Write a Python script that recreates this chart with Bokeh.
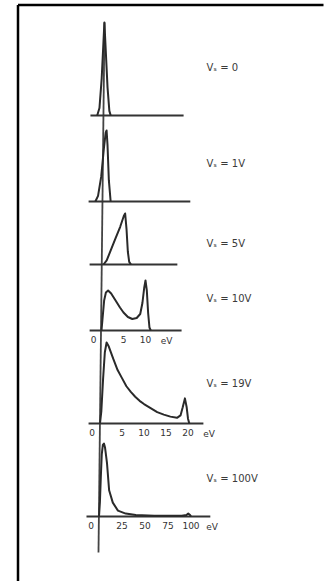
from bokeh.plotting import figure
from bokeh.models import Range1d
from bokeh.core.properties import value
from bokeh.embed import file_html
from bokeh.resources import INLINE

# ---------------- data (energy in eV, relative intensity) ----------------
labels = ["Vₛ = 0", "Vₛ = 1V", "Vₛ = 5V", "Vₛ = 10V", "Vₛ = 19V", "Vₛ = 100V"]

e_0 = [-1.4, -0.9, -0.4, 0.0, 0.2, 0.45, 0.9, 1.3, 1.6]
i_0 = [0.0, 0.08, 0.4, 0.8, 1.0, 0.75, 0.3, 0.05, 0.0]

e_1 = [-1.7, -1.1, -0.4, 0.2, 0.6, 0.8, 1.0, 1.3, 1.7]
i_1 = [0.0, 0.08, 0.35, 0.75, 0.97, 1.0, 0.8, 0.3, 0.0]

e_5 = [0.3, 1.0, 2.0, 3.0, 4.0, 4.8, 5.1, 5.4, 5.7, 6.0, 6.4]
i_5 = [0.0, 0.08, 0.3, 0.52, 0.74, 0.95, 1.0, 0.7, 0.25, 0.05, 0.0]

e_10 = [0.0, 0.2, 0.6, 1.0, 1.5, 2.2, 3.2, 4.2, 5.0, 6.0, 7.0, 8.0, 8.8, 9.3, 9.7, 10.0, 10.3, 10.6, 10.9, 11.2]
i_10 = [0.0, 0.2, 0.6, 0.76, 0.8, 0.74, 0.6, 0.46, 0.36, 0.27, 0.23, 0.25, 0.33, 0.55, 0.85, 1.0, 0.8, 0.35, 0.06, 0.0]

e_19 = [0.0, 0.3, 0.7, 1.1, 1.5, 2.0, 3.0, 4.0, 5.0, 6.0, 7.0, 8.0, 9.0, 10.0, 11.5, 13.0, 14.5, 16.0, 17.5, 18.3, 18.8, 19.3, 19.7, 20.0, 20.3]
i_19 = [0.0, 0.15, 0.55, 0.88, 1.0, 0.95, 0.8, 0.66, 0.56, 0.46, 0.39, 0.33, 0.28, 0.24, 0.19, 0.14, 0.11, 0.085, 0.07, 0.1, 0.2, 0.31, 0.2, 0.06, 0.0]

e_100 = [0.0, 1.0, 2.0, 3.0, 4.2, 5.4, 6.5, 7.5, 8.7, 11.0, 15.0, 20.6, 29.0, 40.0, 60.0, 90.0, 95.0, 97.0, 99.0, 100.0]
i_100 = [0.0, 0.2, 0.55, 0.85, 0.98, 1.0, 0.95, 0.85, 0.73, 0.36, 0.19, 0.08, 0.04, 0.02, 0.01, 0.01, 0.02, 0.04, 0.02, 0.0]

ticks_10 = [0, 5, 10]
ticks_19 = [0, 5, 10, 15, 20]
ticks_100 = [0, 25, 50, 75, 100]

energies = [e_0, e_1, e_5, e_10, e_19, e_100]
intens = [i_0, i_1, i_5, i_10, i_19, i_100]
ticks = [None, None, None, ticks_10, ticks_19, ticks_100]

# ---------------- layout (page pixel geometry of each panel) ----------------
W, H = 324, 581
X0, X1 = 0, W
Y0, Y1 = 0, H
# origin x, px per eV, baseline y, peak y, baseline extent (eV)
panels = [
    (103.0, 4.5, 115, 22, (-2.9, 17.8)),
    (102.5, 4.5, 201, 130, (-3.2, 19.4)),
    (101.7, 4.5, 264, 213, (-2.8, 16.7)),
    (101.0, 4.4, 330, 280, (-2.7, 18.2)),
    (99.5, 4.4, 423, 342, (-2.6, 23.5)),
    (98.5, 0.92, 516, 443, (-13.6, 121.0)),
]
label_y = [67, 163, 243, 298, 383, 478]
label_x = 206

ink = "#333333"

p = figure(width=W, height=H, x_range=Range1d(X0, X1), y_range=Range1d(Y1, Y0),
           output_backend="svg", toolbar_location=None,
           x_axis_type=None, y_axis_type=None, min_border=0)
p.outline_line_color = None
p.background_fill_color = "white"
p.border_fill_color = "white"

# frame border (left and top edges of the scanned box)
p.segment(x0=[17.5, 17.5], y0=[Y1 + 5, 4.5], x1=[17.5, X1 - 1], y1=[4.5, 4.5],
          line_color="black", line_width=2.5, line_cap="butt")

# common vertical (zero-energy) axis
p.line(x=[104, 98], y=[22, 552], line_color="#444444", line_width=1.8)

for i, (o, s, b, t, (bx0, bx1)) in enumerate(panels):
    xn, yn = f"x{i}", f"y{i}"
    p.extra_x_ranges[xn] = Range1d((X0 - o) / s, (X1 - o) / s)
    p.extra_y_ranges[yn] = Range1d((b - Y1) / (b - t), (b - Y0) / (b - t))
    # baseline
    p.line(x=[bx0, bx1], y=[0, 0], x_range_name=xn, y_range_name=yn,
           line_color=ink, line_width=1.8)
    # spectrum
    p.line(x=energies[i], y=intens[i], x_range_name=xn, y_range_name=yn,
           line_color="#2a2a2a", line_width=2.0, line_join="round")
    # tick labels
    tk = ticks[i]
    if tk is not None:
        p.text(x=tk, y=[0] * len(tk), text=[str(v) for v in tk],
               x_range_name=xn, y_range_name=yn,
               x_offset=[-8 if v == 0 else 0 for v in tk], y_offset=9,
               text_align="center", text_baseline="middle",
               text_font=value("DejaVu Sans"), text_font_size="9px", text_color=ink)
        p.text(x=[tk[-1]], y=[0], text=["eV"], x_range_name=xn, y_range_name=yn,
               x_offset=21, y_offset=10, text_align="center", text_baseline="middle",
               text_font=value("DejaVu Sans"), text_font_size="9px", text_color=ink)

# condition labels
p.text(x=[label_x] * len(labels), y=label_y, text=labels,
       text_align="left", text_baseline="middle",
       text_font=value("DejaVu Sans"), text_font_size="10px", text_color="#3a3a3a")

open("out.html", "w").write(file_html(p, INLINE))
